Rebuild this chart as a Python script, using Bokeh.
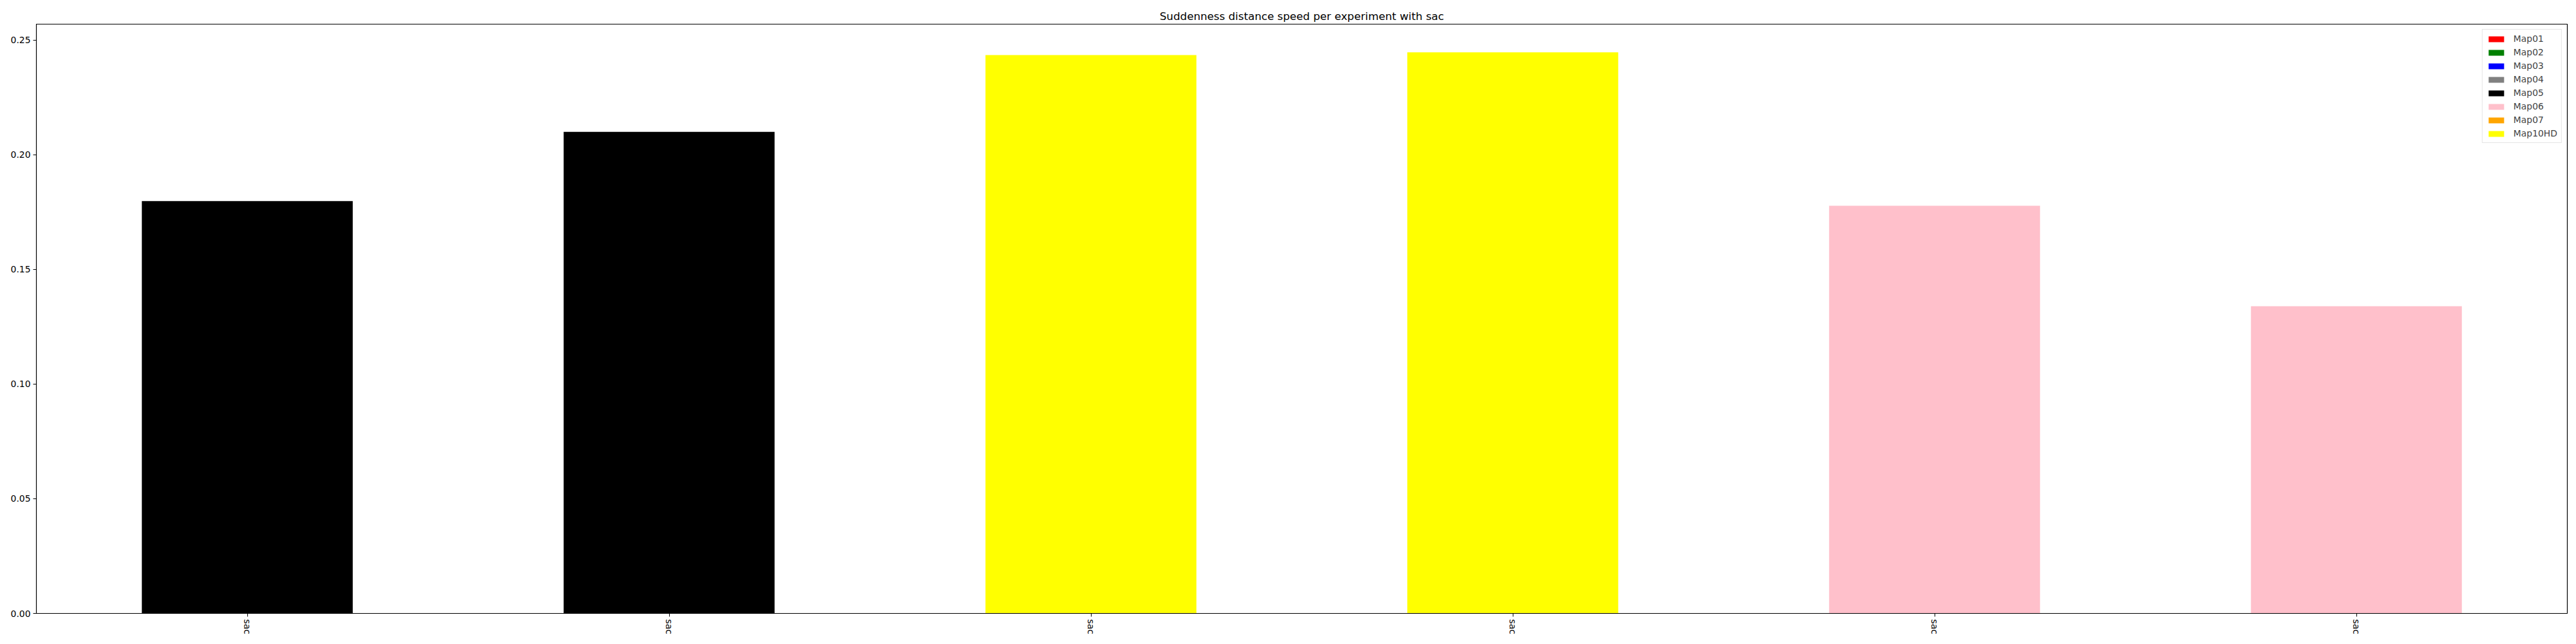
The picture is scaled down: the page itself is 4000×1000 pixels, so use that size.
from bokeh.plotting import figure
from bokeh.models import ColumnDataSource, FixedTicker, NumeralTickFormatter, Range1d, Legend, LegendItem
from bokeh.embed import file_html
from bokeh.resources import INLINE

# ---- data ----
x_labels = ["sac", "sac", "sac", "sac", "sac", "sac"]
values = [0.1798, 0.2100, 0.2435, 0.2447, 0.1778, 0.1340]
bar_maps = ["Map05", "Map05", "Map10HD", "Map10HD", "Map06", "Map06"]
legend_maps = ["Map01", "Map02", "Map03", "Map04", "Map05", "Map06", "Map07", "Map10HD"]
legend_colors = ["red", "green", "blue", "gray", "black", "pink", "orange", "yellow"]
y_ticks = [0.0, 0.05, 0.10, 0.15, 0.20, 0.25]
title_text = "Suddenness distance speed per experiment with sac"

FONT = "DejaVu Sans"
color_of = dict(zip(legend_maps, legend_colors))
positions = list(range(len(values)))

p = figure(
    frame_width=3930, frame_height=915,
    min_border_left=56, min_border_right=6, min_border_top=37, min_border_bottom=40,
    output_backend="svg", toolbar_location=None,
    x_range=Range1d(-0.5, len(values) - 0.5), y_range=Range1d(0, 0.257),
)

p.title.text = title_text
p.title.align = "center"
p.title.text_font = FONT
p.title.text_font_size = "16.7px"
p.title.text_font_style = "normal"
p.title.text_color = "black"
p.title.standoff = 6

items = []
for m in legend_maps:
    # each map's series: its bars' values, zero where the bar belongs to another map
    tops = [v if bm == m else 0 for v, bm in zip(values, bar_maps)]
    src = ColumnDataSource(dict(x=positions, top=tops))
    r = p.vbar(x="x", top="top", bottom=0, width=0.5, source=src,
               fill_color=color_of[m], line_color=None)
    items.append(LegendItem(label=m, renderers=[r]))

legend = Legend(items=items, location="top_right")
legend.label_text_font = FONT
legend.label_text_font_size = "13.9px"
legend.glyph_width = 30
legend.glyph_height = 11
legend.label_height = 16
legend.spacing = 5
legend.padding = 6
legend.margin = 8
legend.label_standoff = 12
legend.border_line_color = "#cccccc"
legend.background_fill_alpha = 0.8
p.add_layout(legend)

p.xgrid.visible = False
p.ygrid.visible = False
p.outline_line_color = "black"
p.outline_line_width = 1.2
p.background_fill_color = "white"
p.border_fill_color = "white"

p.xaxis.ticker = FixedTicker(ticks=positions)
p.xaxis.major_label_overrides = {i: lab for i, lab in enumerate(x_labels)}
p.xaxis.major_label_orientation = "vertical"
p.yaxis.ticker = FixedTicker(ticks=y_ticks)
p.yaxis.formatter = NumeralTickFormatter(format="0.00")
for ax in (p.xaxis, p.yaxis):
    ax.minor_tick_line_color = None
    ax.major_tick_out = 5
    ax.major_tick_in = 0
    ax.major_tick_line_color = "black"
    ax.axis_line_color = "black"
    ax.major_label_text_font = FONT
    ax.major_label_text_font_size = "13.9px"
    ax.major_label_text_color = "black"
    ax.major_label_standoff = 4

open("out.html", "w").write(file_html(p, INLINE))
